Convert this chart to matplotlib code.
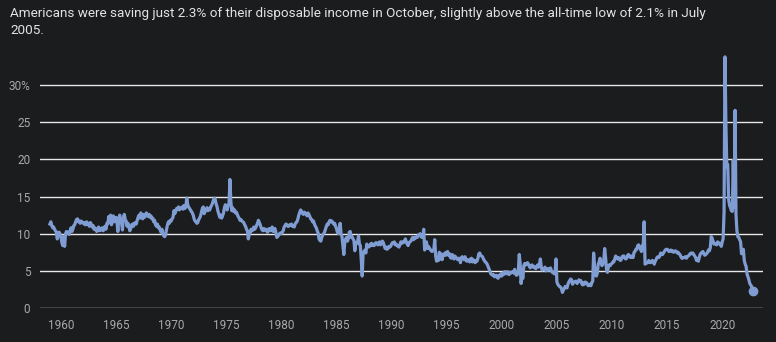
import numpy as np
import matplotlib
matplotlib.use("Agg")
import matplotlib.pyplot as plt

# personal saving rate, monthly, % of disposable income
start_year = 1959

rate_1959_1969 = [
    11.3, 11.6, 11.1, 10.8, 10.9, 10.6, 10.4, 10.2, 9.3, 9.9, 10.2, 10.0,
    9.6, 8.8, 8.4, 9.6, 8.3, 10.0, 10.3, 10.1, 10.2, 9.9, 10.4, 10.8,
    10.3, 10.6, 11.1, 11.2, 11.6, 11.9, 12.0, 11.6, 11.7, 11.4, 11.7, 11.6,
    11.5, 11.3, 11.5, 11.2, 11.6, 11.4, 11.2, 11.0, 11.5, 11.3, 10.9, 11.1,
    10.6, 10.8, 10.5, 10.3, 10.6, 10.9, 10.4, 10.7, 10.5, 10.8, 10.4, 10.7,
    11.0, 10.6, 11.4, 11.3, 12.3, 11.5, 12.5, 11.2, 11.8, 12.4, 11.6, 11.9,
    12.2, 11.6, 10.3, 12.0, 12.5, 11.8, 11.4, 10.5, 12.2, 12.6, 11.9, 11.7,
    11.0, 11.4, 10.9, 10.4, 10.7, 11.2, 11.3, 11.0, 11.4, 11.5, 11.3, 11.8,
    12.2, 12.5, 12.1, 12.8, 12.4, 12.0, 12.6, 12.2, 12.4, 12.8, 12.5, 12.3,
    12.6, 12.2, 12.4, 12.0, 12.1, 11.6, 11.8, 11.2, 11.0, 11.3, 10.8, 10.9,
    10.5, 10.2, 10.6, 10.0, 9.7, 9.6, 9.9, 10.6, 11.2, 11.6, 11.4, 11.8,
]
rate_1970s = [
    11.7, 12.0, 12.2, 13.1, 12.7, 13.0, 13.4, 13.3, 13.6, 13.2, 13.4, 13.5,
    13.6, 13.3, 13.8, 13.4, 13.6, 14.8, 13.9, 13.6, 13.4, 13.2, 13.0, 12.8,
    12.5, 12.0, 11.7, 11.6, 11.4, 11.5, 11.9, 12.1, 12.4, 12.9, 13.4, 13.6,
    12.7, 13.0, 13.2, 13.5, 13.1, 13.4, 13.2, 13.6, 13.8, 14.1, 14.5, 14.8,
    14.6, 14.0, 13.6, 13.0, 12.6, 12.2, 12.5, 12.1, 12.4, 12.8, 13.5, 13.9,
    13.6, 13.2, 13.8, 14.0, 17.3, 14.3, 13.1, 13.5, 13.0, 13.2, 12.8, 12.9,
    12.6, 12.3, 12.1, 11.8, 11.9, 11.7, 11.6, 11.5, 11.2, 11.0, 10.6, 10.4,
    9.3, 9.9, 10.1, 10.6, 10.4, 10.5, 10.9, 10.6, 10.8, 11.1, 11.4, 11.8,
    11.5, 11.2, 10.8, 10.5, 10.4, 10.7, 10.6, 10.4, 10.6, 10.2, 10.5, 10.7,
    10.4, 10.6, 10.9, 10.3, 10.6, 10.7, 10.2, 9.5, 9.6, 9.8, 10.0, 10.1,
]
rate_1980s = [
    10.0, 10.2, 10.4, 10.9, 11.1, 11.3, 11.2, 11.0, 11.0, 11.2, 11.1, 11.3,
    11.0, 11.1, 10.9, 11.3, 11.5, 11.6, 12.0, 12.5, 12.9, 13.2, 13.0, 12.7,
    12.6, 12.9, 12.8, 12.6, 12.4, 12.8, 12.6, 12.3, 12.0, 11.9, 11.6, 11.7,
    11.3, 11.0, 10.8, 10.4, 10.1, 9.3, 9.1, 9.0, 9.5, 9.8, 10.0, 10.2,
    10.6, 11.0, 11.3, 11.2, 11.6, 11.8, 11.6, 11.7, 11.5, 11.3, 11.4, 11.0,
    10.7, 10.2, 10.0, 10.4, 11.4, 10.0, 9.6, 8.4, 7.2, 8.8, 9.3, 9.5,
    9.0, 9.4, 10.2, 10.3, 9.5, 9.6, 9.3, 9.1, 7.7, 8.8, 8.7, 8.9,
    9.7, 8.6, 8.4, 6.5, 4.3, 7.4, 7.6, 7.8, 7.4, 8.6, 8.3, 8.2,
    8.3, 8.6, 8.7, 8.4, 8.6, 8.4, 8.6, 8.8, 8.7, 8.5, 8.8, 8.9,
    8.5, 8.7, 9.0, 8.8, 8.4, 8.0, 8.2, 7.9, 8.0, 8.3, 8.2, 8.3,
]
rate_1990s = [
    8.6, 8.8, 8.7, 8.9, 8.5, 8.6, 8.4, 8.3, 8.2, 8.5, 8.9, 8.7,
    8.9, 8.8, 9.0, 9.3, 8.9, 8.6, 8.4, 8.8, 8.9, 9.0, 9.3, 9.5,
    9.2, 9.5, 9.4, 9.6, 9.5, 9.8, 9.9, 10.0, 9.6, 9.5, 9.7, 10.6,
    7.8, 8.6, 8.9, 8.0, 8.3, 8.1, 7.9, 7.7, 7.6, 7.7, 7.9, 9.2,
    7.0, 6.3, 6.8, 6.4, 7.5, 6.6, 7.3, 6.5, 7.2, 7.1, 7.4, 7.1,
    7.5, 7.6, 7.1, 7.3, 6.8, 6.7, 7.2, 6.9, 6.6, 7.0, 6.8, 6.7,
    6.5, 6.7, 6.6, 6.1, 6.8, 6.9, 6.7, 6.5, 6.9, 6.4, 6.3, 6.5,
    6.4, 6.2, 6.6, 6.7, 6.2, 6.5, 6.3, 6.1, 6.4, 6.3, 6.7, 7.3,
    7.4, 7.1, 7.0, 6.9, 6.6, 6.4, 6.2, 6.1, 5.9, 5.6, 5.3, 5.0,
    4.6, 4.5, 4.4, 4.5, 4.2, 4.3, 4.4, 4.1, 4.0, 4.4, 4.3, 4.6,
]
rate_2000s = [
    4.3, 4.7, 4.5, 4.9, 4.7, 4.6, 4.9, 4.6, 4.5, 4.8, 4.7, 4.8,
    4.9, 4.7, 5.2, 4.6, 4.4, 4.5, 5.0, 7.2, 6.0, 3.3, 4.3, 4.0,
    5.7, 6.0, 5.8, 5.9, 6.1, 5.9, 5.6, 5.4, 5.7, 5.8, 5.5, 5.6,
    5.4, 5.3, 5.6, 5.8, 5.5, 5.9, 6.6, 5.5, 5.1, 5.3, 5.2, 5.5,
    5.0, 5.1, 5.3, 5.1, 5.2, 5.4, 5.0, 4.8, 4.8, 4.6, 4.7, 6.6,
    3.5, 3.2, 3.0, 2.9, 2.8, 2.6, 2.1, 2.4, 2.6, 2.9, 2.8, 2.7,
    3.2, 3.5, 3.7, 3.9, 3.8, 3.2, 3.4, 3.5, 3.6, 3.6, 3.3, 3.5,
    3.8, 3.6, 3.7, 3.3, 3.1, 3.4, 3.2, 3.5, 3.4, 3.3, 3.0, 3.1,
    3.2, 3.0, 3.4, 3.6, 7.4, 5.6, 4.4, 4.3, 4.7, 5.9, 6.2, 6.7,
    6.2, 5.7, 5.9, 6.3, 8.0, 6.8, 5.2, 4.8, 5.5, 5.8, 5.7, 5.9,
]
rate_2010s = [
    6.0, 6.2, 6.2, 6.6, 7.0, 6.8, 6.6, 6.8, 6.6, 6.4, 6.5, 6.9,
    7.0, 7.0, 6.7, 6.6, 6.7, 7.1, 7.2, 7.0, 6.8, 7.0, 6.8, 6.8,
    7.5, 7.6, 7.9, 7.9, 8.4, 8.5, 8.2, 7.9, 7.6, 8.4, 8.6, 11.6,
    5.9, 6.0, 6.1, 6.1, 6.4, 6.2, 6.1, 6.2, 6.4, 6.3, 5.9, 6.3,
    6.5, 6.8, 6.9, 6.8, 7.0, 7.4, 7.2, 7.2, 7.4, 7.6, 7.8, 7.9,
    7.9, 7.8, 7.6, 7.7, 7.8, 7.6, 7.7, 7.5, 7.6, 7.7, 7.6, 7.4,
    7.5, 7.3, 7.2, 6.9, 6.7, 6.7, 6.8, 6.8, 6.9, 6.7, 6.9, 7.0,
    7.1, 7.3, 7.4, 7.3, 7.4, 7.2, 7.0, 6.8, 6.4, 6.6, 6.3, 6.8,
    7.2, 7.4, 7.5, 7.6, 7.3, 7.1, 7.2, 7.3, 7.5, 7.8, 7.7, 8.1,
    9.6, 9.4, 9.0, 8.6, 8.7, 8.6, 8.5, 8.9, 8.8, 8.7, 8.5, 8.3,
]
rate_2020s = [
    8.9, 9.3, 12.9, 33.8, 24.9, 19.0, 19.3, 14.6, 13.8, 13.5, 13.1, 13.0,
    19.9, 13.6, 26.6, 12.6, 10.4, 9.6, 9.5, 9.2, 8.9, 7.3, 7.8, 7.9,
    6.4, 5.9, 5.6, 4.6, 4.2, 3.8, 3.3, 3.1, 2.9, 2.3,
]

x_ticks = [1960, 1965, 1970, 1975, 1980, 1985, 1990, 1995, 2000, 2005, 2010, 2015, 2020]
y_ticks = [0, 5, 10, 15, 20, 25, 30]
y_labels = ["0", "5", "10", "15", "20", "25", "30%"]
title = ("Americans were saving just 2.3% of their disposable income in October, "
         "slightly above the all-time low of 2.1% in July\n2005.")

rate = np.array(rate_1959_1969 + rate_1970s + rate_1980s + rate_1990s
                + rate_2000s + rate_2010s + rate_2020s)
dates = start_year + np.arange(len(rate)) / 12.0

bg = "#1b1c1e"
plt.rcParams["font.family"] = ["Roboto", "DejaVu Sans"]

fig = plt.figure(figsize=(7.76, 3.42), dpi=100, facecolor=bg)
ax = fig.add_axes([40 / 776, 34 / 342, 723 / 776, 260 / 342])
ax.set_facecolor(bg)

ax.plot(dates, rate, color="#7f9dd2", lw=2.3, solid_joinstyle="round", zorder=3, clip_on=False)
ax.plot(dates[-1], rate[-1], "o", color="#7f9dd2", ms=6, zorder=4, clip_on=False)

ax.set_xlim(1958.1, 2023.7)
ax.set_ylim(0, 260 / 7.43)
ax.set_yticks(y_ticks)
ax.set_yticklabels(y_labels)
ax.set_xticks(x_ticks)
ax.grid(axis="y", color="#e8e8e8", lw=1.0, zorder=1)
ax.grid(axis="x", visible=False)
for s in ax.spines.values():
    s.set_visible(False)
ax.tick_params(axis="both", length=0, colors="#a9a9a9", labelsize=8.5)
ax.tick_params(axis="y", pad=7)
ax.tick_params(axis="x", pad=8)

fig.text(10 / 776, 1 - 7 / 342, title, color="#e3e3e3", fontsize=9.7,
         va="top", ha="left", linespacing=1.4)

fig.savefig("out.png", dpi=100, facecolor=bg)
